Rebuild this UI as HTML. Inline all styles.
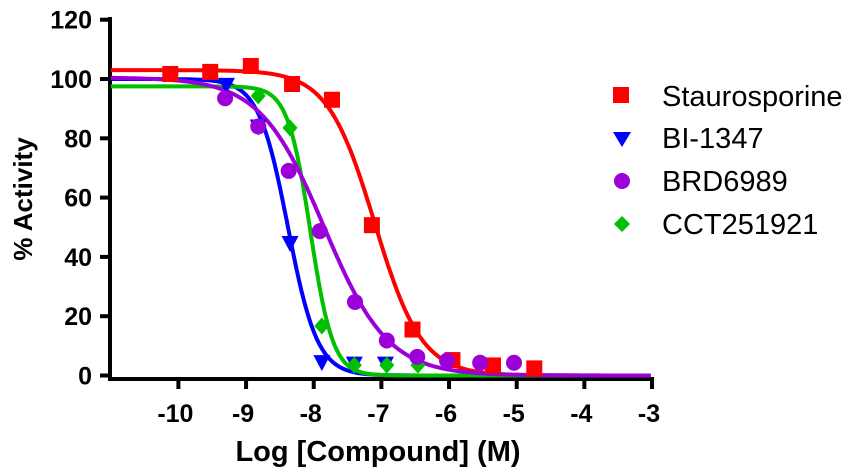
<!DOCTYPE html>
<html><head><meta charset="utf-8"><style>
html,body{margin:0;padding:0;background:#fff;}
svg{display:block;font-family:"Liberation Sans",Arial,sans-serif;}
</style></head><body>
<svg id="s" width="860" height="474" viewBox="0 0 860 474" xmlns="http://www.w3.org/2000/svg">
<g stroke="#000" stroke-width="4" fill="none">
<line x1="110" y1="17" x2="110" y2="381"/>
<line x1="108" y1="379" x2="654" y2="379"/>
</g>
<g id="ticks" stroke="#000" stroke-width="4"></g>
<g id="curves" fill="none" stroke-width="4"></g>
<g id="marks"></g>
<g font-weight="bold" font-size="25" fill="#000" id="labels"></g>
<text x="378" y="461" text-anchor="middle" font-weight="bold" font-size="29">Log [Compound] (M)</text>
<text transform="translate(32,199) rotate(-90)" text-anchor="middle" font-weight="bold" font-size="26">% Activity</text>
<g font-size="29" fill="#000">
<rect x="613" y="87" width="16" height="16" fill="#ff0000"/>
<text x="662" y="106">Staurosporine</text>
<polygon points="613,132 631,132 622,147" fill="#0000ff"/>
<text x="662" y="148">BI-1347</text>
<circle cx="622" cy="181" r="8" fill="#9b00d9"/>
<text x="662" y="191">BRD6989</text>
<polygon points="622,216 630,224 622,232 614,224" fill="#00c000"/>
<text x="662" y="234">CCT251921</text>
</g>
</svg>
<script>
var NS="http://www.w3.org/2000/svg";
function X(v){return 178.4+(v+10)*67.66;}
function Y(v){return 375.5-v*2.965;}
function el(p,t,a){var e=document.createElementNS(NS,t);for(var k in a)e.setAttribute(k,a[k]);document.getElementById(p).appendChild(e);return e;}
for(var i=-10;i<=-3;i++){el("ticks","line",{x1:X(i),y1:379,x2:X(i),y2:389});
var t=el("labels","text",{x:X(i)-3,y:422,"text-anchor":"middle"});t.textContent=i;}
for(var v=0;v<=120;v+=20){el("ticks","line",{x1:100,y1:Y(v),x2:110,y2:Y(v)});
var t=el("labels","text",{x:92,y:Y(v)+9,"text-anchor":"end"});t.textContent=v;}
var S=[
{c:"#ff0000",top:103,bot:0,ic:-7.1,h:1.25,m:"sq",p:[[-10.12,101.7],[-9.53,102.4],[-8.93,104.4],[-8.32,98.3],[-7.73,93],[-7.14,50.7],[-6.54,15.5],[-5.95,5.2],[-5.35,3.4],[-4.74,2.4]]},
{c:"#0000ff",top:100,bot:0,ic:-8.38,h:2.0,m:"tri",p:[[-9.29,98],[-8.82,84],[-8.35,44.7],[-7.88,4.5],[-7.4,4],[-6.94,4]]},
{c:"#00c000",top:97.5,bot:0,ic:-8.05,h:2.6,m:"dia",p:[[-8.82,94.3],[-8.35,83.5],[-7.88,16.7],[-7.4,3.5],[-6.92,3.5],[-6.46,3.5]]},
{c:"#9b00d9",top:100.5,bot:0,ic:-7.85,h:0.92,m:"cir",p:[[-9.31,93.5],[-8.82,84],[-8.37,69],[-7.91,48.7],[-7.39,24.8],[-6.92,11.8],[-6.47,6.3],[-6.03,5],[-5.54,4.3],[-5.04,4.3]]}
];
S.forEach(function(s){
var d="";for(var x=-11.0;x<=-3.0001;x+=0.02){var y=s.bot+(s.top-s.bot)/(1+Math.pow(10,(x-s.ic)*s.h));d+=(d?"L":"M")+X(x).toFixed(1)+","+Y(y).toFixed(1);}
el("curves","path",{d:d,stroke:s.c});
s.p.forEach(function(q){var cx=X(q[0]),cy=Y(q[1]);
if(s.m=="sq")el("marks","rect",{x:cx-8,y:cy-8,width:16,height:16,fill:s.c});
else if(s.m=="tri")el("marks","polygon",{points:(cx-8.5)+","+(cy-7)+" "+(cx+8.5)+","+(cy-7)+" "+cx+","+(cy+9),fill:s.c});
else if(s.m=="dia")el("marks","polygon",{points:cx+","+(cy-8.5)+" "+(cx+7.5)+","+cy+" "+cx+","+(cy+8.5)+" "+(cx-7.5)+","+cy,fill:s.c});
else el("marks","circle",{cx:cx,cy:cy,r:8,fill:s.c});});
});
</script>
</body></html>
